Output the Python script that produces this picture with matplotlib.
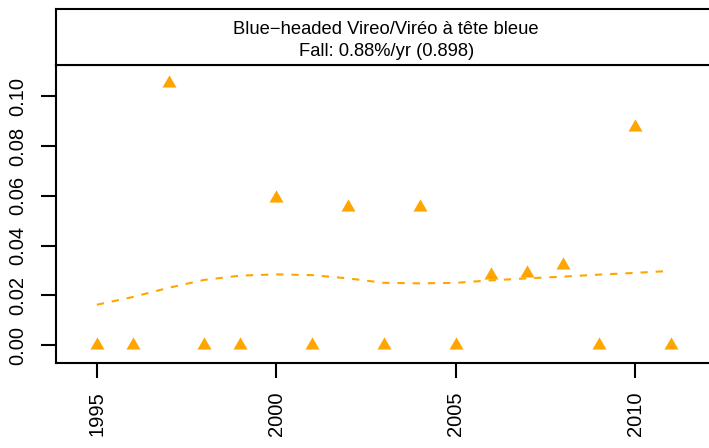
import matplotlib
matplotlib.use('Agg')
import matplotlib.pyplot as plt

plt.rcParams['font.family'] = ['Liberation Sans', 'DejaVu Sans']

# data
years = [1995, 1996, 1997, 1998, 1999, 2000, 2001, 2002, 2003, 2004,
         2005, 2006, 2007, 2008, 2009, 2010, 2011]
counts = [0.0, 0.0, 0.1053, 0.0, 0.0, 0.0590, 0.0, 0.0554, 0.0, 0.0554,
          0.0, 0.0282, 0.0291, 0.0320, 0.0, 0.0877, 0.0]
trend = [0.0162, 0.0193, 0.0230, 0.0262, 0.0279, 0.0284, 0.0281, 0.0268, 0.0250,
         0.0248, 0.0250, 0.0260, 0.0268, 0.0275, 0.0283, 0.0290, 0.0298]
xticks = [1995, 2000, 2005, 2010]
yticks = [0.00, 0.02, 0.04, 0.06, 0.08, 0.10]
title1 = 'Blue\u2212headed Vireo/Viréo à tête bleue'
title2 = 'Fall: 0.88%/yr (0.898)'

orange = '#FFA500'
lw = 1.5

fig = plt.figure(figsize=(7.09, 4.48), dpi=100)
ax = fig.add_axes([0.0794, 0.1908, 1.01 - 0.0794, 0.8556 - 0.1908])
strip = fig.add_axes([0.0794, 0.8556, 1.01 - 0.0794, 0.9799 - 0.8556])

tri = [(-1, -0.577), (1, -0.577), (0, 1.155)]
ax.plot(years, trend, color=orange, lw=lw, dashes=(3.5, 3.8))
ax.plot(years, counts, linestyle='none', marker=tri, ms=11.7,
        color=orange, markeredgewidth=0)

ax.set_xlim(1993.87, 2012.26)
ax.set_ylim(-0.00704, 0.1127)
ax.set_xticks(xticks)
ax.set_xticklabels([str(x) for x in xticks], rotation=90)
ax.set_yticks(yticks)
ax.set_yticklabels(['%.2f' % y for y in yticks], rotation=90, va='center')
ax.tick_params(axis='both', direction='out', length=11, width=lw,
               labelsize=14.5, pad=10)
for s in ['left', 'bottom', 'top']:
    ax.spines[s].set_linewidth(lw)
ax.spines['right'].set_visible(False)

strip.set_xlim(0, 1)
strip.set_ylim(0, 1)
strip.set_xticks([])
strip.set_yticks([])
for s in ['left', 'bottom', 'top']:
    strip.spines[s].set_linewidth(lw)
strip.spines['right'].set_visible(False)
strip.text(0.5, 0.63, title1, ha='center', va='center', fontsize=13.2,
           transform=strip.transAxes)
strip.text(0.5, 0.235, title2, ha='center', va='center', fontsize=13.2,
           transform=strip.transAxes)

fig.savefig('out.png', dpi=100)
